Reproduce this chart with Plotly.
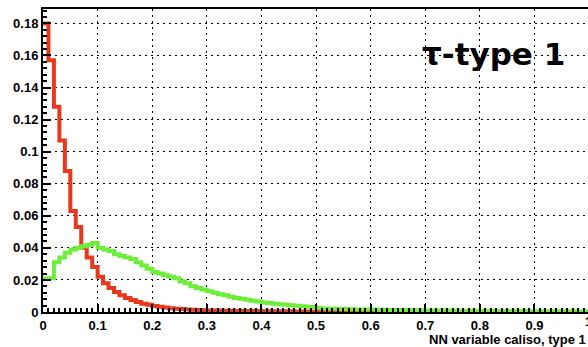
import plotly.graph_objects as go

# Histogram: 100 bins of width 0.01 on [0, 1]
bin_width = 0.01
n_bins = 100

red_values = [
    0.180, 0.157, 0.128, 0.107, 0.088, 0.063, 0.053, 0.040, 0.034, 0.028,
    0.022, 0.018, 0.015, 0.0125, 0.0105, 0.0088, 0.0075, 0.0062, 0.0052, 0.0045,
    0.0038, 0.0032, 0.0028, 0.0024, 0.0021, 0.0018, 0.0016, 0.0014, 0.0012, 0.0011,
    0.0010, 0.0009, 0.0009, 0.0008, 0.0008, 0.0007, 0.0007, 0.0006, 0.0006, 0.0006,
    0.0005, 0.0005, 0.0005, 0.0004, 0.0004, 0.0004, 0.0003, 0.0003, 0.0003, 0.0002,
    0.0002, 0.0001, 0.0001, 0.0001, 0.0001, 0.0, 0.0, 0.0, 0.0, 0.0,
    0.0, 0.0, 0.0, 0.0, 0.0, 0.0, 0.0, 0.0, 0.0, 0.0,
    0.0, 0.0, 0.0, 0.0, 0.0, 0.0, 0.0, 0.0, 0.0, 0.0,
    0.0, 0.0, 0.0, 0.0, 0.0, 0.0, 0.0, 0.0, 0.0, 0.0,
    0.0, 0.0, 0.0, 0.0, 0.0, 0.0, 0.0, 0.0, 0.0, 0.0,
]

green_values = [
    0.021, 0.021, 0.031, 0.034, 0.037, 0.039, 0.040, 0.041, 0.042, 0.043,
    0.040, 0.039, 0.038, 0.036, 0.035, 0.034, 0.033, 0.031, 0.029, 0.027,
    0.025, 0.024, 0.023, 0.022, 0.021, 0.019, 0.018, 0.016, 0.015, 0.014,
    0.013, 0.012, 0.011, 0.0105, 0.0095, 0.0088, 0.0082, 0.0076, 0.0070, 0.0065,
    0.0060, 0.0056, 0.0052, 0.0048, 0.0045, 0.0042, 0.0039, 0.0036, 0.0033, 0.0031,
    0.0025, 0.0022, 0.0021, 0.0020, 0.0019, 0.0018, 0.0017, 0.0016, 0.0016, 0.0015,
    0.0015, 0.0014, 0.0014, 0.0013, 0.0013, 0.0012, 0.0012, 0.0011, 0.0011, 0.0010,
    0.0010, 0.0010, 0.0009, 0.0009, 0.0009, 0.0008, 0.0008, 0.0008, 0.0008, 0.0007,
    0.0007, 0.0007, 0.0007, 0.0006, 0.0006, 0.0006, 0.0006, 0.0006, 0.0005, 0.0005,
    0.0005, 0.0005, 0.0005, 0.0005, 0.0005, 0.0005, 0.0005, 0.0005, 0.0005, 0.0005,
]

x_tick_vals = [0, 0.1, 0.2, 0.3, 0.4, 0.5, 0.6, 0.7, 0.8, 0.9]
y_tick_vals = [0, 0.02, 0.04, 0.06, 0.08, 0.1, 0.12, 0.14, 0.16, 0.18]
x_title = "NN variable caliso, type 1"
label_text = "τ-type 1"

edges = [i * bin_width for i in range(n_bins + 1)]


def step(values):
    xs = list(edges)
    ys = list(values) + [values[-1]]
    return xs, ys


RED = "#e8381e"
GREEN = "#6cee3a"

fig = go.Figure()
gx, gy = step(green_values)
rx, ry = step(red_values)
fig.add_trace(go.Scatter(x=rx, y=ry, mode="lines", line=dict(color=RED, width=4, shape="hv"),
                         showlegend=False, hoverinfo="skip"))
fig.add_trace(go.Scatter(x=gx, y=gy, mode="lines", line=dict(color=GREEN, width=4, shape="hv"),
                         showlegend=False, hoverinfo="skip"))

tickfont = dict(family="Liberation Sans", size=13, color="black", weight="bold")

fig.update_layout(
    width=588, height=347,
    margin=dict(l=43, r=0, t=9, b=35),
    paper_bgcolor="white", plot_bgcolor="white",
    xaxis=dict(
        range=[0, 0.998], tickvals=x_tick_vals, ticks="inside", ticklen=8, tickwidth=1.5,
        tickcolor="black", showline=True, linecolor="black", linewidth=2, mirror=True,
        showgrid=True, gridcolor="black", gridwidth=1, griddash="2px,4px", zeroline=False,
        tickfont=tickfont, automargin=False,
        minor=dict(dtick=0.01, ticks="inside", ticklen=4, tickcolor="black", showgrid=False),
    ),
    yaxis=dict(
        range=[0, 0.189], tickvals=y_tick_vals, ticks="inside", ticklen=8, tickwidth=1.5,
        tickcolor="black", showline=True, linecolor="black", linewidth=2, mirror=False,
        showgrid=True, gridcolor="black", gridwidth=1, griddash="2px,4px", zeroline=False,
        tickfont=tickfont, automargin=False,
        minor=dict(dtick=0.004, ticks="inside", ticklen=4, tickcolor="black", showgrid=False),
    ),
    annotations=[
        dict(text=x_title, xref="paper", yref="paper", x=1.0, y=-0.092, xanchor="right",
             yanchor="middle", showarrow=False,
             font=dict(family="Liberation Sans", size=13, color="black", weight="bold")),
        dict(text=label_text, xref="paper", yref="paper", x=0.826, y=0.852, xanchor="center",
             yanchor="middle", showarrow=False,
             font=dict(family="DejaVu Sans", size=31, color="black", weight="bold")),
        dict(text="1", xref="paper", yref="paper", x=1.0, y=-0.03, xanchor="center",
             yanchor="middle", showarrow=False, font=tickfont),
    ],
)

fig.write_html(
    "out.html",
    config={"displayModeBar": False},
    post_script="document.body.style.margin='0';document.body.style.overflow='hidden';",
)
